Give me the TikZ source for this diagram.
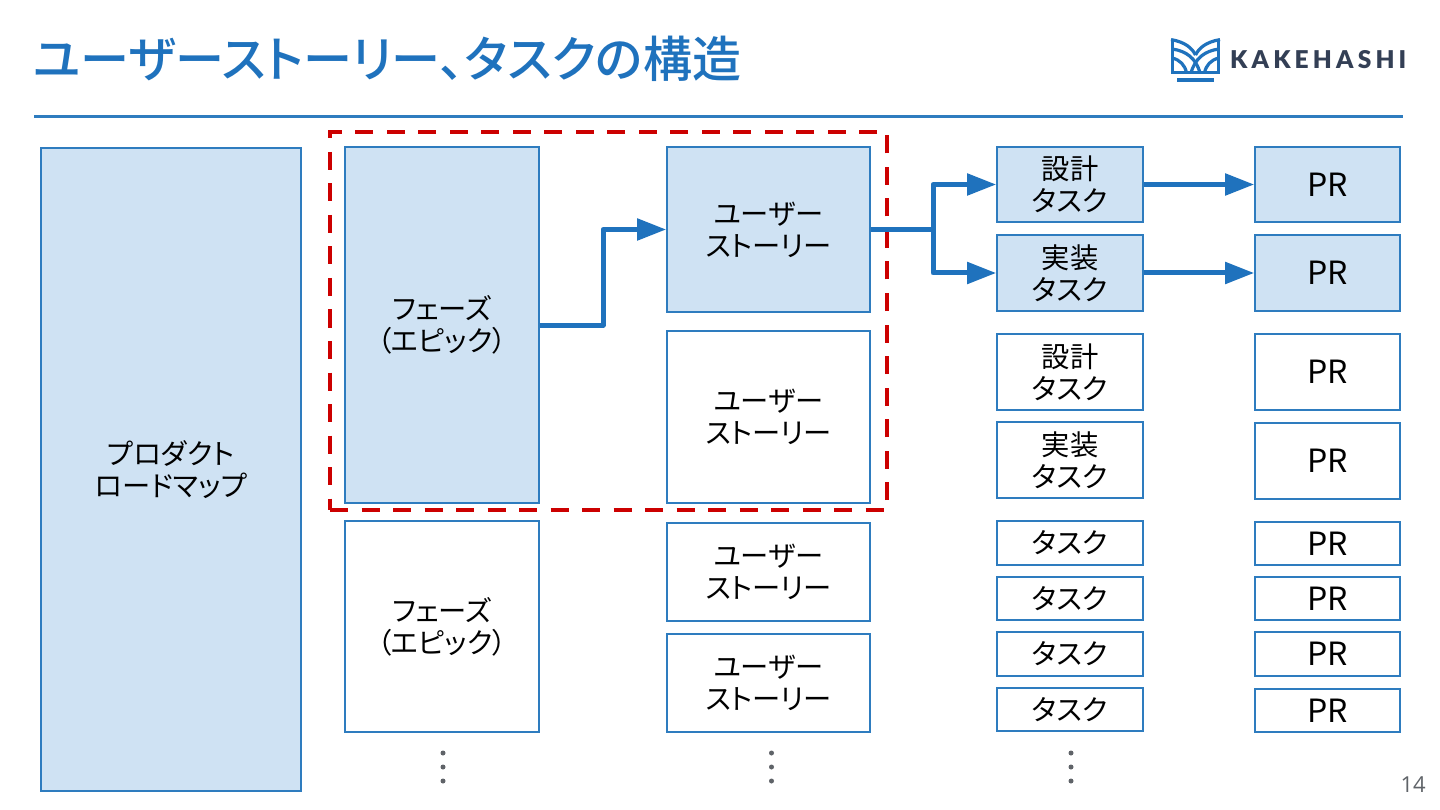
\documentclass[tikz,border=0pt]{standalone}
\usepackage{fontspec}
\usetikzlibrary{arrows.meta}
\setmainfont{Noto Sans CJK JP}[RawFeature=+palt]
\newfontfamily\jpm{Noto Sans CJK JP Medium}[RawFeature=+palt]
\newfontfamily\logofont{Lato Black}[LetterSpace=17]
\newfontfamily\numfont{Open Sans}
\definecolor{kblue}{HTML}{1F72BD}
\definecolor{kline}{HTML}{2E7CBF}
\definecolor{kfill}{HTML}{CFE2F3}
\definecolor{kred}{HTML}{CC0000}
\definecolor{kdark}{HTML}{333F55}
\definecolor{kgrey}{HTML}{5F6368}
\tikzset{
  box/.style={draw=kline,line width=1.6pt,inner sep=0pt,align=center,font=\fontsize{28.3}{32}\selectfont,text=black},
  filled/.style={box,fill=kfill},
  plain/.style={box,fill=white},
  flow/.style={draw=kblue,line width=5pt,line join=round,-{Triangle[length=29pt,width=21pt]}},
  flowline/.style={draw=kblue,line width=5pt,line join=round},
  vdot/.style={circle,fill=kgrey,inner sep=0pt,minimum size=5pt},
  redbox/.style={draw=kred,line width=4.5pt,dash pattern=on 18pt off 13.5pt,inner sep=0pt,fill=none},
  logoline/.style={draw=kblue,line width=3.2pt,line join=miter}
}
% name, x0, y0, x1, y1, style, text
\newcommand{\kbx}[7]{%
  \pgfmathsetmacro{\kw}{#4-#2}\pgfmathsetmacro{\kh}{#5-#3}%
  \pgfmathsetmacro{\kx}{(#2+#4)/2}\pgfmathsetmacro{\ky}{(#3+#5)/2}%
  \node[#6,minimum width=\kw pt,minimum height=\kh pt] (#1) at (\kx,\ky) {#7};}
\newcommand{\kpr}{\fontsize{32}{36}\selectfont PR}
\begin{document}
\begin{tikzpicture}[x=1pt,y=-1pt]
\useasboundingbox (0,0) rectangle (1440,810);
\fill[white] (0,0) rectangle (1440,810);
% title
\node[anchor=west,inner sep=0pt,text=kblue,font=\jpm\fontsize{49.1}{54}\selectfont] (title) at (33,58.5) {ユーザーストーリー、タスクの構造};
\coordinate (hl) at (34,117); \coordinate (hr) at (1403,117);
\draw[kline,line width=3pt] (hl) -- (hr);
% logo
\begin{scope}
\draw[logoline] (1172.6,39.6) -- (1172.6,72.6) -- (1218.4,72.6) -- (1218.4,39.6);
\draw[logoline] (1171,39.6) .. controls (1185,42) and (1192,48) .. (1195.5,55);
\draw[logoline] (1220,39.6) .. controls (1206,42) and (1199,48) .. (1195.5,55);
\draw[logoline] (1172.3,49) .. controls (1186,51) and (1196,58) .. (1200,73);
\draw[logoline] (1218.7,49) .. controls (1205,51) and (1195,58) .. (1191,73);
\draw[logoline] (1172.3,58) .. controls (1180,60) and (1185,65) .. (1186.5,73);
\draw[logoline] (1218.7,58) .. controls (1211,60) and (1206,65) .. (1204.5,73);
\fill[kblue] (1177,78.5) rectangle (1214,82.5);
\end{scope}
\node[anchor=west,inner sep=0pt,text=kdark,font=\logofont\fontsize{24.5}{28}\selectfont] (logo) at (1230,60) {KAKEHASHI};
% boxes
\kbx{road}{41}{148}{301}{791}{filled}{プロダクト\\ロードマップ}
\kbx{epa}{345}{147}{539}{503}{filled}{フェーズ\\（エピック）}
\kbx{epb}{345}{521}{539}{732}{plain}{フェーズ\\（エピック）}
\kbx{usa}{667}{147}{870}{312}{filled}{ユーザー\\ストーリー}
\kbx{usb}{667}{331}{870}{503}{plain}{ユーザー\\ストーリー}
\kbx{usc}{667}{523}{870}{621}{plain}{ユーザー\\ストーリー}
\kbx{usd}{667}{634}{870}{732}{plain}{ユーザー\\ストーリー}
\kbx{ta}{997}{147}{1143}{222}{filled}{設計\\タスク}
\kbx{tb}{997}{235}{1143}{311}{filled}{実装\\タスク}
\kbx{tc}{997}{334}{1143}{410}{plain}{設計\\タスク}
\kbx{td}{997}{422}{1143}{498}{plain}{実装\\タスク}
\kbx{te}{997}{521}{1143}{565}{plain}{タスク}
\kbx{tf}{997}{577}{1143}{620}{plain}{タスク}
\kbx{tg}{997}{632}{1143}{676}{plain}{タスク}
\kbx{th}{997}{688}{1143}{731}{plain}{タスク}
\kbx{pa}{1255}{147}{1400}{222}{filled}{\kpr}
\kbx{pb}{1255}{235}{1400}{311}{filled}{\kpr}
\kbx{pc}{1255}{334}{1400}{410}{plain}{\kpr}
\kbx{pd}{1255}{423}{1400}{499}{plain}{\kpr}
\kbx{pe}{1255}{522}{1400}{565}{plain}{\kpr}
\kbx{pf}{1255}{577}{1400}{620}{plain}{\kpr}
\kbx{pg}{1255}{632}{1400}{676}{plain}{\kpr}
\kbx{ph}{1255}{689}{1400}{732}{plain}{\kpr}
\kbx{red}{330}{132}{887}{510}{redbox}{}
% connectors
\coordinate (ja) at (603,325);
\coordinate (jb) at (933,229.5);
\draw[flow] (epa.east) -- (ja) |- (usa.west);
\draw[flowline] (usa.east) -- (jb);
\draw[flow] (jb) |- (ta.west);
\draw[flow] (jb) |- (tb.west);
\draw[flow] (ta.east) -- (pa.west);
\draw[flow] (tb.east) -- (pb.west);
% dots
\foreach \dx/\dn in {443/a,771.5/b,1071/c}{
  \foreach \dy/\dm in {753/x,767/y,781/z}{
    \node[vdot] (d\dn\dm) at (\dx,\dy) {};
  }
}
\node[anchor=east,inner sep=0pt,text=kgrey,font=\numfont\fontsize{22}{26}\selectfont] (pageno) at (1426,785) {14};
\end{tikzpicture}
\end{document}
